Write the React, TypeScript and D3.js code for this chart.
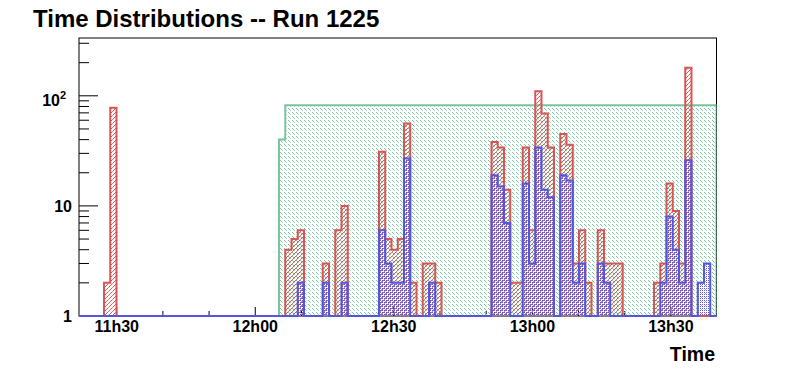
import React from "react";
import * as d3 from "d3";

// ---- data (one entry per time bin, 102 bins) ----
const runNumber = 1225;
const runStart = new Date(2011, 0, 1, 11, 21, 50);
const binSeconds = 81.2;

// all hits (red)
const allHits = [
  0, 0, 0, 0, 2, 78, 0, 0, 0, 0,
  0, 0, 0, 0, 0, 0, 0, 0, 0, 0,
  0, 0, 0, 0, 0, 0, 0, 0, 0, 0,
  0, 0, 0, 4, 5, 6, 0, 0, 0, 3,
  0, 6, 10, 0, 0, 0, 0, 0, 31, 5,
  4, 5, 56, 2, 0, 3, 3, 2, 0, 0,
  0, 0, 0, 0, 0, 0, 38, 34, 14, 2,
  2, 34, 6, 110, 69, 34, 0, 45, 36, 3,
  6, 2, 0, 6, 3, 3, 3, 0, 0, 0,
  0, 0, 2, 3, 16, 9, 3, 180, 0, 1,
  1, 0,
];

// matched hits (blue)
const matchedHits = [
  0, 0, 0, 0, 0, 0, 0, 0, 0, 0,
  0, 0, 0, 0, 0, 0, 0, 0, 0, 0,
  0, 0, 0, 0, 0, 0, 0, 0, 0, 0,
  0, 0, 0, 0, 0, 2, 0, 0, 0, 2,
  0, 0, 2, 0, 0, 0, 0, 0, 6, 3,
  2, 2, 27, 0, 0, 0, 2, 0, 0, 0,
  0, 0, 0, 0, 0, 0, 19, 15, 7, 0,
  0, 16, 3, 34, 14, 12, 0, 19, 17, 2,
  3, 0, 0, 3, 2, 0, 0, 0, 0, 0,
  0, 0, 0, 2, 8, 4, 2, 26, 0, 2,
  3, 0,
];

// active channels (green)
const activeChannels = [
  0, 0, 0, 0, 0, 0, 0, 0, 0, 0,
  0, 0, 0, 0, 0, 0, 0, 0, 0, 0,
  0, 0, 0, 0, 0, 0, 0, 0, 0, 0,
  0, 0, 40, 82, 82, 82, 82, 82, 82, 82,
  82, 82, 82, 82, 82, 82, 82, 82, 82, 82,
  82, 82, 82, 82, 82, 82, 82, 82, 82, 82,
  82, 82, 82, 82, 82, 82, 82, 82, 82, 82,
  82, 82, 82, 82, 82, 82, 82, 82, 82, 82,
  82, 82, 82, 82, 82, 82, 82, 82, 82, 82,
  82, 82, 82, 82, 82, 82, 82, 82, 82, 82,
  82, 82,
];

const yMajor = [1, 10, 100];

const W = 796, H = 372;
const left = 79, right = 716.5, top = 38, bottom = 316;
const font = "'Liberation Sans', Arial, Helvetica, sans-serif";

export default function App() {
  const nBins = allHits.length;
  const runEnd = new Date(runStart.getTime() + nBins * binSeconds * 1000);

  const x = d3.scaleTime().domain([runStart, runEnd]).range([left, right]);
  const y = d3.scaleLog().domain([1, 335]).range([bottom, top]).clamp(true);

  const edges = d3.range(nBins + 1).map((i) =>
    x(new Date(runStart.getTime() + i * binSeconds * 1000))
  );

  // step points for one histogram
  const stepPoints = (vals: number[]) => {
    const pts: [number, number][] = [[edges[0], bottom]];
    vals.forEach((v, i) => pts.push([edges[i], y(Math.max(v, 1))]));
    pts.push([edges[nBins], y(Math.max(vals[nBins - 1], 1))]);
    pts.push([edges[nBins], bottom]);
    return pts;
  };

  const line = d3.line().curve(d3.curveStepAfter);
  const area = d3
    .area<[number, number]>()
    .curve(d3.curveStepAfter)
    .x((d) => d[0])
    .y0(bottom)
    .y1((d) => d[1]);

  const series = [
    { id: "green", vals: activeChannels, color: "#7cc4a0" },
    { id: "red", vals: allHits, color: "#d85555" },
    { id: "blue", vals: matchedHits, color: "#5555dd" },
  ];

  const xTicks = x.ticks(d3.timeMinute.every(10) as any);
  const fmt = d3.timeFormat("%Hh%M");

  const yTicks: { v: number; major: boolean }[] = [];
  [1, 10, 100].forEach((d) => {
    for (let k = 1; k <= 9; k++) {
      const v = k * d;
      if (v <= y.domain()[1]) yTicks.push({ v, major: k === 1 });
    }
  });

  return (
    <svg
      width={W}
      height={H}
      style={{ position: "absolute", left: 0, top: 0, background: "#fff" }}
      fontFamily={font}
      fontWeight="bold"
    >
      <defs>
        <pattern id="pat-green" width="4" height="4" patternUnits="userSpaceOnUse">
          <rect x="0" y="0" width="1" height="1" fill="#78c49c" />
          <rect x="1" y="1" width="1" height="1" fill="#78c49c" />
          <rect x="2" y="2" width="1" height="1" fill="#a8dcc0" />
        </pattern>
        <pattern id="pat-red" width="4" height="4" patternUnits="userSpaceOnUse">
          <rect x="3" y="0" width="1" height="1" fill="#e05a5a" />
          <rect x="2" y="1" width="1" height="1" fill="#e05a5a" />
          <rect x="1" y="2" width="1" height="1" fill="#e05a5a" />
          <rect x="0" y="3" width="1" height="1" fill="#e87a7a" />
        </pattern>
        <pattern id="pat-blue" width="2" height="2" patternUnits="userSpaceOnUse">
          <rect x="0" y="0" width="1" height="1" fill="#5a5ae0" />
        </pattern>
        <clipPath id="plot-clip">
          <rect x={left} y={top} width={right - left} height={bottom - top + 2} />
        </clipPath>
      </defs>

      <rect x={0} y={0} width={W} height={H} fill="#fff" />

      {/* frame */}
      <rect x={left} y={top} width={right - left} height={bottom - top} fill="none" stroke="#000" strokeWidth={1} />

      {/* x ticks */}
      {xTicks.map((t, i) => {
        const major = t.getMinutes() % 30 === 0;
        return (
          <line key={"xt" + i} x1={x(t)} x2={x(t)} y1={bottom} y2={bottom - (major ? 9 : 5)} stroke="#000" />
        );
      })}

      {/* y ticks */}
      {yTicks.map((t, i) => (
        <line key={"yt" + i} x1={left} x2={left + (t.major ? 19 : 10)} y1={y(t.v)} y2={y(t.v)} stroke="#000" />
      ))}

      {/* histograms */}
      <g clipPath="url(#plot-clip)">
        {series.map((s) => {
          const pts = stepPoints(s.vals);
          return (
            <g key={s.id}>
              <path d={area(pts) || ""} fill={`url(#pat-${s.id})`} />
              <path d={line(pts) || ""} fill="none" stroke={s.color} strokeWidth={2} />
            </g>
          );
        })}
      </g>

      {/* x labels */}
      {xTicks
        .filter((t) => t.getMinutes() % 30 === 0)
        .map((t, i) => (
          <text key={"xl" + i} x={x(t)} y={332} fontSize={16} textAnchor="middle">
            {fmt(t)}
          </text>
        ))}

      {/* y labels */}
      {yMajor.map((v) =>
        v === 100 ? (
          <text key={"yl" + v} x={60} y={y(v) + 10} fontSize={16} textAnchor="end">
            10
          </text>
        ) : (
          <text key={"yl" + v} x={72} y={y(v) + 6} fontSize={16} textAnchor="end">
            {v}
          </text>
        )
      )}
      <text x={60} y={y(100) + 3} fontSize={11}>
        2
      </text>

      {/* axis title */}
      <text x={715} y={361} fontSize={19.5} textAnchor="end">
        Time
      </text>

      {/* title */}
      <text x={33} y={27} fontSize={24}>
        Time Distributions -- Run {runNumber}
      </text>
    </svg>
  );
}
